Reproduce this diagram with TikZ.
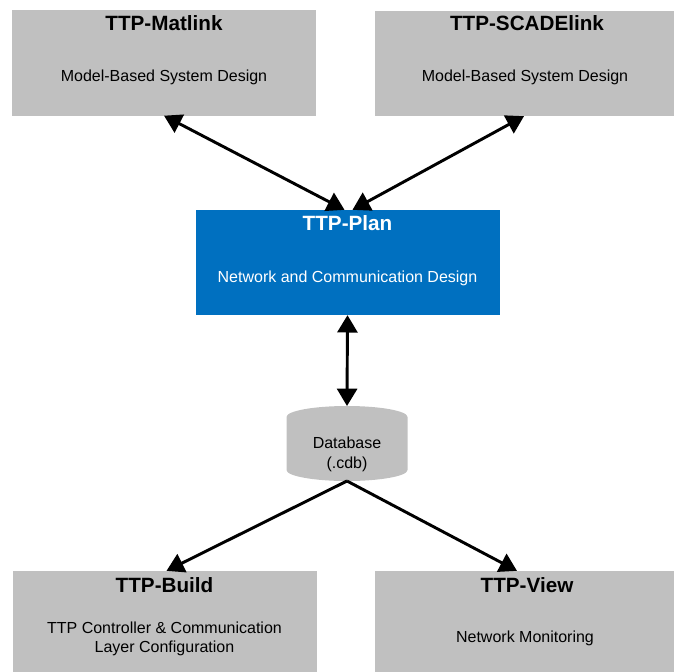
\documentclass[tikz,border=0pt]{standalone}
\usepackage{fontspec}
\setmainfont{Liberation Sans}
\usetikzlibrary{arrows.meta,calc}
\definecolor{boxgray}{HTML}{C0C0C0}
\definecolor{planblue}{HTML}{0070C0}
\tikzset{every node/.style={inner sep=0pt,outer sep=0pt}}
\tikzset{box/.style={rectangle,draw=none,fill=boxgray,minimum width=228pt,minimum height=79pt}}
\tikzset{ttl/.style={font=\fontsize{15.5}{18}\selectfont\bfseries,anchor=base}}
\tikzset{sub/.style={font=\fontsize{12}{14.3}\selectfont,align=center}}

\begin{document}
\begin{tikzpicture}[x=0.75pt,y=-0.75pt,line width=2.2pt,>={Triangle[width=15pt,length=13pt]}]
      \useasboundingbox (0,0) rectangle (674,671);
      % tool boxes
      \node[box] (mat) at (164,63) {};
      \node[box] (scade) at (527,63.5) {};
      \node[box,fill=planblue] (plan) at (347.5,262.5) {};
      \node[box] (build) at (164.5,623.5) {};
      \node[box] (view) at (527,623.5) {};
      \node[rectangle,minimum width=90.75pt,minimum height=56.25pt] (db) at (347,443.5) {};
      \fill[boxgray] ($(db.north west)+(0,11)$) arc[start angle=180,end angle=0,x radius=45.375pt,y radius=8.25pt]
        -- ($(db.south east)+(0,-11)$) arc[start angle=0,end angle=-180,x radius=45.375pt,y radius=8.25pt] -- cycle;
      % texts
      \node[ttl] (matT) at (164,31) {TTP-Matlink};
      \node[sub] (matS) at (164,77) {Model-Based System Design};
      \node[ttl] (scadeT) at (527,31) {TTP-SCADElink};
      \node[sub] (scadeS) at (525,77) {Model-Based System Design};
      \node[ttl,text=white] (planT) at (347.5,230.5) {TTP-Plan};
      \node[sub,text=white] (planS) at (347.5,278) {Network and Communication Design};
      \node[ttl] (buildT) at (164.5,592.5) {TTP-Build};
      \node[sub] (buildS) at (164.5,639) {TTP Controller \& Communication\\Layer Configuration};
      \node[ttl] (viewT) at (527,592.5) {TTP-View};
      \node[sub] (viewS) at (525,638) {Network Monitoring};
      \node[sub,font=\fontsize{12}{15}\selectfont] (dbT) at (347,454.5) {Database\\(.cdb)};
      % links
      \draw[<->] (mat.south) -- ($(plan.north)+(-3,0)$);
      \draw[<->] ($(scade.south)+(-3,0)$) -- ($(plan.north)+(5,0)$);
      \draw[<->] (plan.south) -- (db.north);
      \draw[->] (db.south) -- ($(build.north)+(2,0)$);
      \draw[->] (db.south) -- ($(view.north)+(-10,0)$);
\end{tikzpicture}
\end{document}
